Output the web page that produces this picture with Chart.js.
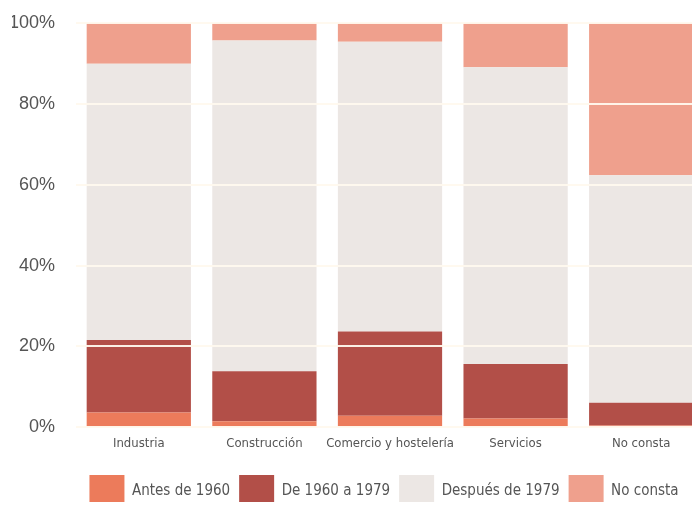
<!DOCTYPE html>
<html>
<head>
<meta charset="utf-8">
<title>Antigüedad de los edificios por sector</title>
<script src="https://cdn.jsdelivr.net/npm/chart.js@4/dist/chart.umd.min.js"></script>
<style>
    html, body { margin: 0; padding: 0; background: #ffffff; overflow: hidden; }
    #wrap { position: relative; width: 706px; height: 511px; margin-top: -9px; }
</style>
</head>
<body>
<div id="wrap"><canvas id="edadChart" width="706" height="511"></canvas></div>
<script>
// Sectores (eje X)
var sectores = ['Industria', 'Construcción', 'Comercio y hostelería', 'Servicios', 'No consta'];

// Porcentaje de cada periodo en cada sector
var antes1960   = [3.7, 1.5, 2.9, 2.2, 0.5];
var de1960a1979 = [17.9, 12.4, 20.8, 13.5, 5.6];
var despues1979 = [68.3, 81.7, 71.6, 73.3, 56.2];
var noConsta    = [10.1, 4.4, 4.7, 11.0, 37.7];

// Marcas del eje Y
var marcasY = [0, 20, 40, 60, 80, 100];

var colores = {
    antes: '#ec7b5b',
    de60: '#b24f48',
    despues: '#ece7e4',
    noConsta: '#efa08d'
};

var fuenteEstrecha = '"DejaVu Sans Condensed", "Liberation Sans Narrow", sans-serif';

// Desplaza la leyenda: algo a la derecha y más abajo
var leyendaPlugin = {
    id: 'leyendaAbajo',
    afterLayout: function (chart) {
        var lg = chart.legend;
        if (!lg) return;
        lg.left = 64;
        lg.width = lg.right - lg.left;
        lg.top += 15;
        lg.bottom += 15;
    }
};

function initChart() {
    var ctx = document.getElementById('edadChart');
    if (!ctx) return;

    new Chart(ctx.getContext('2d'), {
        type: 'bar',
        data: {
            labels: sectores,
            datasets: [
                { label: 'Antes de 1960', data: antes1960, backgroundColor: colores.antes },
                { label: 'De 1960 a 1979', data: de1960a1979, backgroundColor: colores.de60 },
                { label: 'Después de 1979', data: despues1979, backgroundColor: colores.despues },
                { label: 'No consta', data: noConsta, backgroundColor: colores.noConsta }
            ]
        },
        plugins: [leyendaPlugin],
        options: {
            responsive: false,
            animation: false,
            layout: {
                padding: { left: 12, right: 2, top: 0, bottom: 0 }
            },
            datasets: {
                bar: {
                    categoryPercentage: 1,
                    barPercentage: 0.83,
                    borderWidth: 0
                }
            },
            plugins: {
                tooltip: { enabled: false },
                legend: {
                    position: 'bottom',
                    labels: {
                        boxWidth: 35,
                        boxHeight: 32,
                        padding: 9,
                        color: '#555555',
                        font: { family: fuenteEstrecha, size: 15 }
                    }
                }
            },
            scales: {
                x: {
                    stacked: true,
                    grid: { display: false },
                    border: { display: false },
                    ticks: {
                        color: '#555555',
                        padding: 0,
                        maxRotation: 0,
                        autoSkip: false,
                        font: { family: fuenteEstrecha, size: 13 }
                    }
                },
                y: {
                    stacked: true,
                    min: 0,
                    max: 100,
                    afterFit: function (scale) { scale.width = 64; },
                    afterBuildTicks: function (scale) {
                        scale.ticks = marcasY.map(function (v) { return { value: v }; });
                    },
                    grid: {
                        z: 1,  // las líneas claras van encima de las barras
                        color: 'rgba(255, 249, 238, 0.95)',
                        lineWidth: 2,
                        drawTicks: false
                    },
                    border: { display: false },
                    ticks: {
                        padding: 21,
                        color: '#555555',
                        font: { family: '"Liberation Sans", Arial, sans-serif', size: 18 },
                        callback: function (v) { return v + '%'; }
                    }
                }
            }
        }
    });
}

window.onload = initChart;
</script>
</body>
</html>
